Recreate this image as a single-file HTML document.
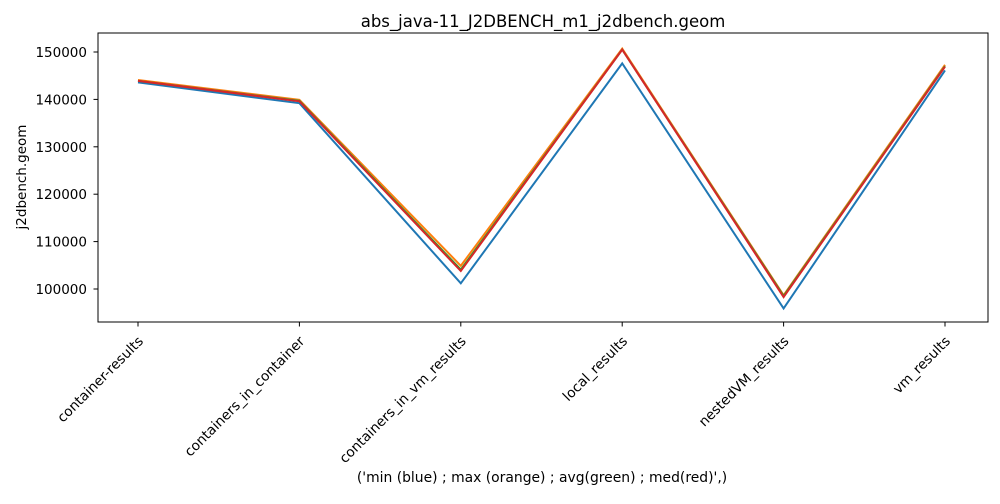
<!DOCTYPE html>
<html><head><meta charset="utf-8"><style>
body{margin:0;background:#fff;font-family:"DejaVu Sans","Liberation Sans",sans-serif;}
</style></head><body>
<svg id="chart" width="1000" height="500" xmlns="http://www.w3.org/2000/svg" font-family="DejaVu Sans, Liberation Sans, sans-serif">
<text x="543" y="27" text-anchor="middle" font-size="16.5">abs_java-11_J2DBENCH_m1_j2dbench.geom</text>
<g id="plot"></g>
<rect x="98" y="33" width="890" height="289" fill="none" stroke="#000" stroke-width="1"/>
<text x="26" y="177" text-anchor="middle" font-size="13.5" transform="rotate(-90 26 177)">j2dbench.geom</text>
<text x="542" y="482" text-anchor="middle" font-size="13.9">('min (blue) ; max (orange) ; avg(green) ; med(red)',)</text>
</svg>
<script>
const categories=["container-results","containers_in_container","containers_in_vm_results","local_results","nestedVM_results","vm_results"];
const minVals=[143600,139200,101200,147600,95900,146100];
const maxVals=[144100,139900,104900,150700,98700,147300];
const avgVals=[143900,139700,104100,150500,98500,147000];
const medVals=[143900,139600,103800,150500,98300,146900];
const yTicks=[100000,110000,120000,130000,140000,150000];
const ns="http://www.w3.org/2000/svg";
const plot=document.getElementById('plot');
function xs(i){return 138+i*(945-138)/(categories.length-1);}
function ys(v){return 289-(v-100000)*(237/50000);}
function mk(t,a){const e=document.createElementNS(ns,t);for(const k in a)e.setAttribute(k,a[k]);plot.appendChild(e);return e;}
yTicks.forEach(v=>{
  const l=mk('line',{x1:93.5,x2:98,y1:ys(v),y2:ys(v),stroke:'#000'});
  
  
  const t=mk('text',{x:87,y:ys(v)+5,'text-anchor':'end','font-size':13.5});
  t.textContent=v;
  
  
});
categories.forEach((c,i)=>{
  const l=mk('line',{x1:xs(i),x2:xs(i),y1:322,y2:326.5,stroke:'#000'});
  
  
  const t=mk('text',{x:xs(i)+6,y:342,'text-anchor':'end','font-size':13.7,transform:`rotate(-45 ${xs(i)+6} 342)`});
  t.textContent=c;
  
  
});
[[minVals,'#1f77b4','series-min'],[maxVals,'#ff7f0e','series-max'],[avgVals,'#2ca02c','series-avg'],[medVals,'#d62728','series-med']].forEach(([vals,col,name])=>{
  const p=mk('polyline',{points:vals.map((v,i)=>xs(i)+','+ys(v)).join(' '),fill:'none',stroke:col,'stroke-width':2});
  
  
});
</script>
</body></html>
